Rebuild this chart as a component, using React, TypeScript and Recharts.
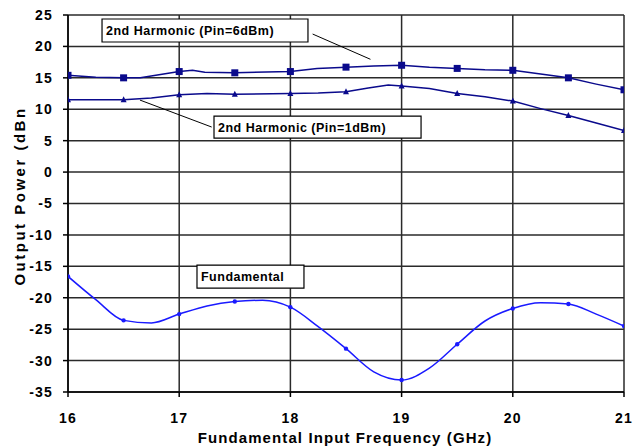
import React from "react";
import {
  LineChart,
  Line,
  XAxis,
  YAxis,
  CartesianGrid,
  ReferenceArea,
  ReferenceLine,
} from "recharts";

// 2nd harmonic, Pin = 6 dBm
const harm6Freq = [16, 16.25, 16.5, 16.65, 17, 17.12, 17.23, 17.5, 18, 18.24, 18.5, 18.75, 19, 19.25, 19.5, 19.75, 20, 20.25, 20.5, 20.75, 21];
const harm6Power = [15.4, 15.1, 15.0, 15.0, 16.0, 16.2, 15.9, 15.8, 16.0, 16.5, 16.7, 16.9, 17.0, 16.7, 16.5, 16.3, 16.2, 15.6, 15.0, 14.0, 13.1];

// 2nd harmonic, Pin = 1 dBm
const harm1Freq = [16, 16.5, 16.75, 17, 17.25, 17.5, 18, 18.25, 18.5, 18.7, 18.88, 19, 19.25, 19.5, 19.75, 20, 20.25, 20.5, 20.75, 21];
const harm1Power = [11.5, 11.5, 11.8, 12.3, 12.5, 12.4, 12.5, 12.6, 12.8, 13.4, 13.85, 13.7, 13.3, 12.5, 12.0, 11.3, 10.1, 9.0, 7.8, 6.6];

// fundamental
const fundFreq = [16, 16.25, 16.5, 16.75, 17, 17.25, 17.5, 17.75, 18, 18.25, 18.5, 18.75, 19, 19.25, 19.5, 19.75, 20, 20.25, 20.5, 20.75, 21];
const fundPower = [-16.6, -20.3, -23.6, -24.0, -22.6, -21.3, -20.6, -20.4, -21.5, -24.6, -28.1, -31.8, -33.1, -31.2, -27.4, -23.7, -21.7, -20.8, -21.0, -22.6, -24.5];

const xTicks = [16, 17, 18, 19, 20, 21];
const yTicks = [-35, -30, -25, -20, -15, -10, -5, 0, 5, 10, 15, 20, 25];

const FONT = "'Liberation Sans', Arial, sans-serif";
const NAVY = "#0a0a8c";
const BLUE = "#1a1aff";

const toPoints = (freq: number[], power: number[]) =>
  freq.map((f, i) => ({ f, v: power[i] }));

const isMarker = (f: number) => Math.abs(f * 2 - Math.round(f * 2)) < 1e-6;

const squareDot = (p: any) => {
  if (!isMarker(p.payload.f)) return <g key={`s${p.index}`} />;
  return <rect key={`s${p.index}`} x={p.cx - 3.5} y={p.cy - 3.5} width={7} height={7} fill={NAVY} />;
};

const triangleDot = (p: any) => {
  if (!isMarker(p.payload.f)) return <g key={`t${p.index}`} />;
  const { cx, cy } = p;
  return (
    <polygon
      key={`t${p.index}`}
      points={`${cx},${cy - 3.5} ${cx + 3},${cy + 2.5} ${cx - 3},${cy + 2.5}`}
      fill={NAVY}
    />
  );
};

const roundDot = (p: any) => {
  if (!isMarker(p.payload.f)) return <g key={`c${p.index}`} />;
  return <circle key={`c${p.index}`} cx={p.cx} cy={p.cy} r={2.2} fill={BLUE} />;
};

const boxLabel = (text: string) => (props: any) => {
  const vb = props.viewBox;
  return (
    <text
      x={vb.x + 4}
      y={vb.y + vb.height / 2 + 4.5}
      fontFamily={FONT}
      fontWeight="bold"
      fontSize={12.5}
      letterSpacing={0.5}
      fill="#000"
    >
      {text}
    </text>
  );
};

const tickStyle = {
  fill: "#000",
  fontSize: 14,
  fontWeight: "bold",
  fontFamily: FONT,
  letterSpacing: 1.2,
};

export default function App() {
  return (
    <div style={{ position: "absolute", left: 0, top: 0, width: 638, height: 448, background: "#fff" }}>
      <LineChart width={638} height={448} margin={{ top: 15, right: 14, left: 8, bottom: 26 }}>
        <CartesianGrid stroke="#2a2a2a" strokeWidth={1.5} />
        <XAxis
          type="number"
          dataKey="f"
          domain={[16, 21]}
          ticks={xTicks}
          allowDataOverflow
          height={30}
          tick={tickStyle}
          tickSize={5}
          tickMargin={16}
          axisLine={{ stroke: "#000", strokeWidth: 1.5 }}
          tickLine={{ stroke: "#000", strokeWidth: 1.5 }}
          label={{
            content: () => (
              <text
                x={345}
                y={443}
                textAnchor="middle"
                fontFamily={FONT}
                fontWeight="bold"
                fontSize={15}
                letterSpacing={1.1}
                fill="#000"
              >
                Fundamental Input Frequency (GHz)
              </text>
            ),
          }}
        />
        <YAxis
          type="number"
          domain={[-35, 25]}
          ticks={yTicks}
          allowDataOverflow
          width={60}
          tick={tickStyle}
          tickSize={5}
          tickMargin={10}
          axisLine={{ stroke: "#000", strokeWidth: 1.5 }}
          tickLine={{ stroke: "#000", strokeWidth: 1.5 }}
          label={{
            content: () => (
              <text
                x={19}
                y={196}
                transform="rotate(-90 19 196)"
                textAnchor="middle"
                dominantBaseline="central"
                fontFamily={FONT}
                fontWeight="bold"
                fontSize={15}
                letterSpacing={2.5}
                fill="#000"
              >
                Output Power (dBn
              </text>
            ),
          }}
        />
        <ReferenceLine
          segment={[{ x: 18.2, y: 21.97 }, { x: 18.72, y: 17.95 }]}
          stroke="#000"
          strokeWidth={1}
        />
        <ReferenceLine
          segment={[{ x: 16.647, y: 11.46 }, { x: 17.292, y: 7.17 }]}
          stroke="#000"
          strokeWidth={1}
        />
        <ReferenceArea
          x1={16.306}
          x2={18.158}
          y1={20.7}
          y2={24.36}
          fill="#fff"
          fillOpacity={1}
          stroke="#000"
          strokeWidth={1.2}
          label={{ content: boxLabel("2nd Harmonic (Pin=6dBm)") }}
        />
        <ReferenceArea
          x1={17.313}
          x2={19.175}
          y1={5.41}
          y2={8.92}
          fill="#fff"
          fillOpacity={1}
          stroke="#000"
          strokeWidth={1.2}
          label={{ content: boxLabel("2nd Harmonic (Pin=1dBm)") }}
        />
        <ReferenceArea
          x1={17.16}
          x2={18.122}
          y1={-18.47}
          y2={-14.81}
          fill="#fff"
          fillOpacity={1}
          stroke="#000"
          strokeWidth={1.2}
          label={{ content: boxLabel("Fundamental") }}
        />
        <Line
          data={toPoints(harm6Freq, harm6Power)}
          dataKey="v"
          type="linear"
          stroke={NAVY}
          strokeWidth={1.5}
          dot={squareDot}
          isAnimationActive={false}
        />
        <Line
          data={toPoints(harm1Freq, harm1Power)}
          dataKey="v"
          type="linear"
          stroke={NAVY}
          strokeWidth={1.5}
          dot={triangleDot}
          isAnimationActive={false}
        />
        <Line
          data={toPoints(fundFreq, fundPower)}
          dataKey="v"
          type="monotone"
          stroke={BLUE}
          strokeWidth={1.5}
          dot={roundDot}
          isAnimationActive={false}
        />
      </LineChart>
    </div>
  );
}
